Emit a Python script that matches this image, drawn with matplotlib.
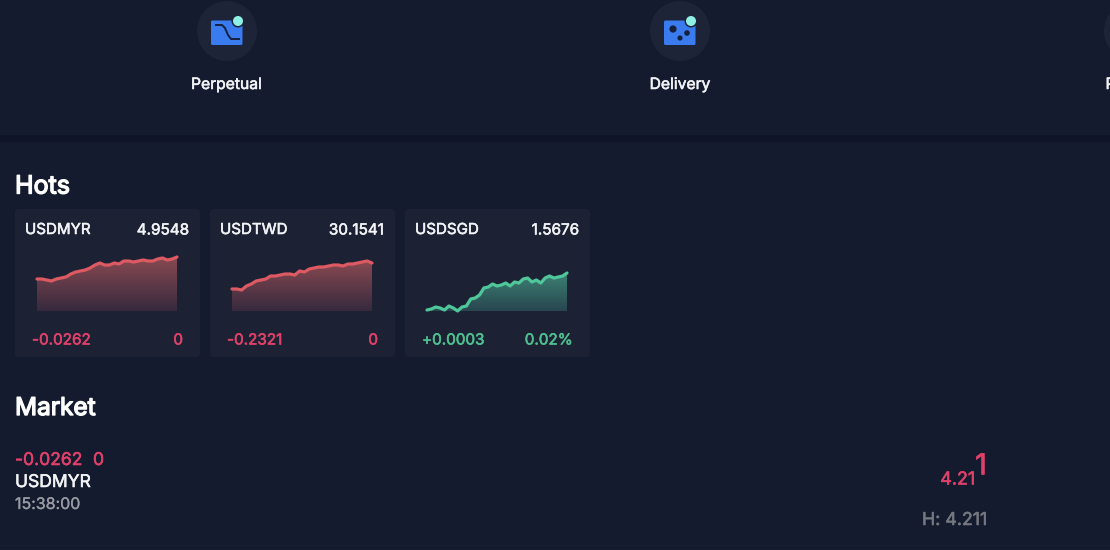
import numpy as np
import matplotlib
matplotlib.use('Agg')
import matplotlib.pyplot as plt
import matplotlib.patheffects as pe
from matplotlib.patches import Circle, FancyBboxPatch, Rectangle
from matplotlib.colors import LinearSegmentedColormap

plt.rcParams['font.family'] = ['Inter', 'DejaVu Sans']

# data
pairs = ['USDMYR', 'USDTWD', 'USDSGD']
prices = ['4.9548', '30.1541', '1.5676']
changes = ['-0.0262', '-0.2321', '+0.0003']
percents = ['0', '0', '0.02%']
myr_values = [32, 32, 31, 30, 32, 33, 34, 37, 39, 40, 41, 43, 46, 48, 46, 46,
              48, 47, 50, 50, 49, 50, 51, 50, 50, 52, 53, 51, 52, 54]
twd_values = [22, 22, 21, 25, 27, 30, 31, 32, 35, 35, 36, 37, 37, 36, 40, 39,
              42, 43, 44, 44, 45, 46, 46, 45, 47, 47, 48, 49, 50, 48]
sgd_values = [1, 2, 4, 3, 1, 5, 3, 0, 4, 5, 12, 13, 16, 23, 24, 27, 25, 26, 28,
              25, 29, 28, 32, 33, 29, 31, 28, 33, 35, 33, 34, 35, 38]
nav_labels = ['Perpetual', 'Delivery']

BG = '#141b2f'
CARD = '#1c2234'
CIRCLE = '#1d2438'
BLUE = '#3a7bf0'
TEAL = '#8ef0e6'
RED = '#e0416a'
GREEN = '#4fc08f'
WHITE = '#f2f3f5'
GREY = '#9a9ca3'

fig = plt.figure(figsize=(11.1, 5.5), dpi=100, facecolor=BG)
ax = fig.add_axes([0, 0, 1, 1])
ax.set_xlim(0, 1110)
ax.set_ylim(550, 0)
ax.axis('off')

ax.add_patch(Rectangle((0, 135), 1110, 7, fc='#0f1526', ec='none'))
ax.add_patch(Rectangle((0, 545), 1110, 1, fc='#192033', ec='none'))


def label(x, y, s, color, size, ha='left', bold=0.4):
    # Inter only comes in one weight here, so thicken it with a thin stroke
    t = ax.text(x, y, s, color=color, fontsize=size, ha=ha, va='center')
    t.set_path_effects([pe.withStroke(linewidth=bold, foreground=color)])
    return t


def nav_base(cx):
    ax.add_patch(Circle((cx, 31), 30, fc=CIRCLE, ec='none'))
    ax.add_patch(FancyBboxPatch((cx - 16, 20.5), 31.5, 24.5, boxstyle='round,pad=0,rounding_size=1.5',
                                fc=BLUE, ec='none'))
    ax.add_patch(Circle((cx + 11, 21), 6.5, fc=CIRCLE, ec='none'))
    ax.add_patch(Circle((cx + 11, 21), 5, fc=TEAL, ec='none'))


# perpetual icon
nav_base(227)
ax.plot([216, 222, 225, 228, 231, 239], [25, 25, 28, 35, 39, 39], color='#14203c', lw=1.4)
# delivery icon
nav_base(680)
for dx, dy, r in [(-7, 29, 3.6), (7, 33, 2.8), (0, 38, 2.6)]:
    ax.add_patch(Circle((680 + dx, dy), r, fc='#14203c', ec='none'))
# third one runs off the edge
ax.add_patch(Circle((1134, 31), 30, fc=CIRCLE, ec='none'))

for cx, s in zip([226.5, 680], nav_labels):
    label(cx, 84.5, s, WHITE, 11.3, ha='center')
label(1105.5, 84.5, 'P', WHITE, 11.3)

label(15, 187, 'Hots', 'white', 18, bold=1.0)
label(15, 408.5, 'Market', 'white', 17.6, bold=1.0)

card_left = [15, 210, 405]
series = [myr_values, twd_values, sgd_values]
for i in range(3):
    x0 = card_left[i]
    ax.add_patch(FancyBboxPatch((x0, 209), 185, 148, boxstyle='round,pad=0,rounding_size=4',
                                fc=CARD, ec='none'))
    label(x0 + 10, 230, pairs[i], WHITE, 10.9)
    label(x0 + 174, 230, prices[i], WHITE, 11, ha='right')
    col = GREEN if i == 2 else RED
    label(x0 + 17, 340, changes[i], col, 11)
    label(x0 + 168, 340, percents[i], col, 11, ha='right')

    # sparkline gets its own axes
    sp = fig.add_axes([(x0 + 22) / 1110, 1 - 311 / 550, 140 / 1110, 60 / 550])
    sp.axis('off')
    vals = np.array(series[i], dtype=float)
    xs = np.arange(len(vals))
    sp.set_xlim(0, len(vals) - 1)
    sp.set_ylim(0, 60)
    if i == 2:
        line_col = '#4fc79a'
        cmap = LinearSegmentedColormap.from_list('g', ['#284650', '#3d8274'])
    else:
        line_col = '#dd5a62'
        cmap = LinearSegmentedColormap.from_list('r', ['#372a3e', '#8a4a52'])
    grad = np.linspace(0, 1, 100).reshape(-1, 1)
    im = sp.imshow(grad, origin='lower', aspect='auto', cmap=cmap,
                   extent=(0, len(vals) - 1, 0, vals.max()), zorder=1)
    poly = sp.fill_between(xs, 0, vals, color='none')
    im.set_clip_path(poly.get_paths()[0], transform=sp.transData)
    sp.plot(xs, vals, color=line_col, lw=2.3, zorder=2, clip_on=False, solid_capstyle='round')

# market row
label(15, 460.5, '-0.0262', RED, 12.6)
label(93, 460.5, '0', RED, 12.6)
label(15, 482.5, 'USDMYR', WHITE, 12.6)
label(15, 504.5, '15:38:00', GREY, 11.5, bold=0.2)
label(975, 480, '4.21', RED, 12.9, ha='right')
label(975, 467, '1', RED, 21)
label(987, 520.5, 'H: 4.211', '#75787f', 12.8, ha='right')

fig.savefig('out.png', dpi=100, facecolor=BG)
